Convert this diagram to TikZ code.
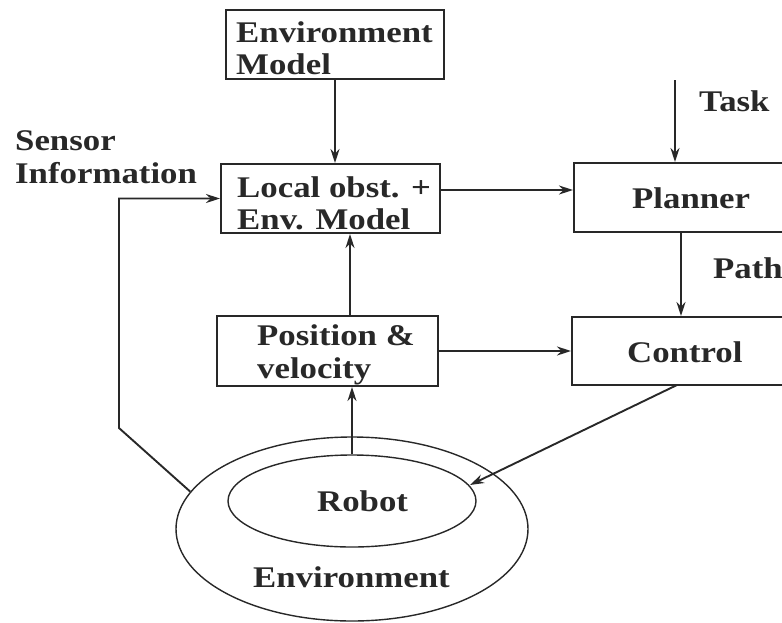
\documentclass[tikz,border=0pt]{standalone}
\usepackage{fontspec}
\newfontfamily\lbl{Liberation Serif}[FakeStretch=1.16]
\usetikzlibrary{arrows.meta,shapes.geometric}
\definecolor{ink}{RGB}{40,40,40}
\tikzset{
  box/.style={draw=ink, line width=2pt, rectangle, inner sep=0pt},
  oval/.style={draw=ink, line width=1.4pt, ellipse, inner sep=0pt},
  arr/.style={draw=ink, line width=1.9pt, -{Stealth[length=14pt,width=9pt]}},
  txt/.style={anchor=base west, inner sep=0pt, text=ink, font=\lbl\bfseries\fontsize{30}{32}\selectfont}
}
\begin{document}
\begin{tikzpicture}[x=1pt,y=-1pt]
\useasboundingbox (0,0) rectangle (782,622);
\clip (0,0) rectangle (782,622);
% boxes
\node[box, minimum width=218pt, minimum height=69pt] (envm) at (335,44.5) {};
\node[box, minimum width=219pt, minimum height=69pt] (local) at (330.5,198.5) {};
\node[box, minimum width=240pt, minimum height=69pt] (planner) at (694,197.5) {};
\node[box, minimum width=240pt, minimum height=68pt] (control) at (692,351) {};
\node[box, minimum width=221pt, minimum height=70pt] (pos) at (327.5,351) {};
\node[oval, minimum width=352pt, minimum height=184pt] (envo) at (352,529) {};
\node[oval, minimum width=248pt, minimum height=92pt] (robot) at (352,501) {};
% texts
\node[txt] (t1) at (236,42) {Environment};
\node[txt] (t2) at (236,74) {Model};
\node[txt] (t3) at (237,197) {Local obst. +};
\node[txt] (t4) at (237,229) {Env. Model};
\node[txt] (t5) at (632,208) {Planner};
\node[txt] (t6) at (627,362) {Control};
\node[txt] (t7) at (257,345) {Position \&};
\node[txt] (t8) at (257,378) {velocity};
\node[txt] (t9) at (317,511) {Robot};
\node[txt] (t10) at (253,587) {Environment};
\node[txt] (t11) at (15,150) {Sensor};
\node[txt] (t12) at (15,183) {Information};
\node[txt] (t13) at (699,111) {Task};
\node[txt] (t14) at (713,278) {Path};
% coordinates
\coordinate (task) at (675,80);
\coordinate (pathx) at (681,0);
\coordinate (vx) at (350,0);
\coordinate (c1) at (119,428);
\coordinate (cstart) at (677,385);
\coordinate (rhit) at (470,485);
% connectors
\draw[arr] (envm.south) -- (envm.south |- local.north);
\draw[arr] ([yshift=8.5pt]local.east) -- ([yshift=8.5pt]local.east -| planner.west);
\draw[arr] (task) -- (task |- planner.north);
\draw[arr] (planner.south -| pathx) -- (control.north -| pathx);
\draw[arr] (pos.east) -- (pos.east -| control.west);
\draw[arr] (pos.north -| vx) -- (local.south -| vx);
\draw[arr] (robot.north) -- (robot.north |- pos.south);
\draw[arr] (cstart) -- (rhit);
\draw[arr] (envo.167) -- (c1) -- (c1 |- local.west) -- (local.west);
\end{tikzpicture}
\end{document}
